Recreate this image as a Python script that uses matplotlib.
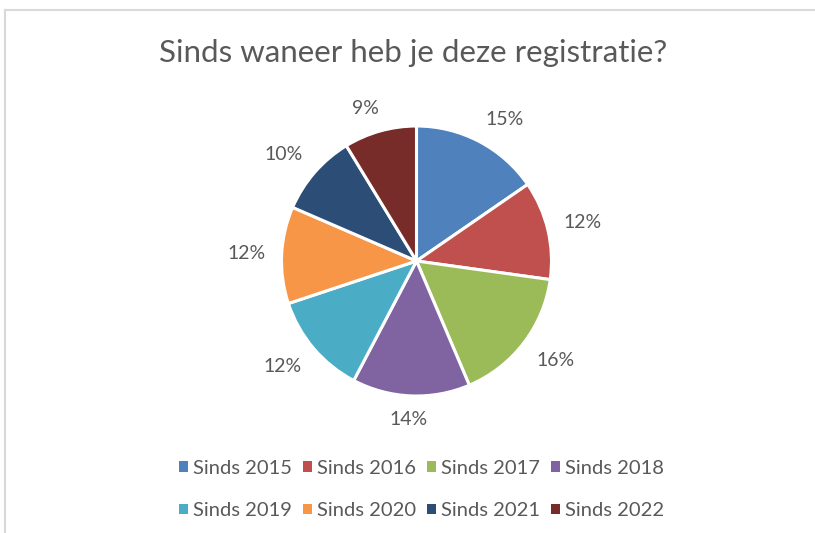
import numpy as np
import matplotlib as mpl
mpl.use('Agg')
import matplotlib.pyplot as plt
from matplotlib.lines import Line2D
from matplotlib.patches import Patch

labels = ['Sinds 2015', 'Sinds 2016', 'Sinds 2017', 'Sinds 2018',
          'Sinds 2019', 'Sinds 2020', 'Sinds 2021', 'Sinds 2022']
# shares in percent
shares = [15.4, 11.8, 16.4, 14.1, 12.2, 11.6, 9.8, 8.7]
colors = ['#4F81BD', '#C0504D', '#9BBB59', '#8064A2',
          '#4BACC6', '#F79646', '#2C4D75', '#772C2A']

plt.rcParams['font.family'] = ['Lato', 'DejaVu Sans']
txt = '#595959'

W, H = 815, 533
fig = plt.figure(figsize=(W / 100, H / 100), dpi=100)

# chart border (top and left only visible)
fig.add_artist(Line2D([5 / W, 1], [1 - 10 / H, 1 - 10 / H], color='#d9d9d9', lw=1.5))
fig.add_artist(Line2D([5 / W, 5 / W], [0, 1 - 10 / H], color='#d9d9d9', lw=1.5))

cx, cy, r = 416.5, 261, 135
ax = fig.add_axes([(cx - r) / W, 1 - (cy + r) / H, 2 * r / W, 2 * r / H])
wedges, _ = ax.pie(shares, colors=colors, startangle=90, counterclock=False,
                   wedgeprops=dict(edgecolor='white', linewidth=2.2))
ax.set_aspect('equal')
ax.set_xlim(-1, 1)
ax.set_ylim(-1, 1)
ax.axis('off')

# outside-end labels, pushed out by the half size of the text box
R = 151 / r
hw, hh = 19 / r, 7.5 / r
for w, s in zip(wedges, shares):
    a = np.deg2rad((w.theta1 + w.theta2) / 2)
    ux, uy = np.cos(a), np.sin(a)
    x = R * ux + hw * np.clip(2 * ux, -1, 1)
    y = R * uy + hh * np.clip(2 * uy, -1, 1)
    ax.text(x, y, '{:.0f}%'.format(s), ha='center', va='center',
            fontsize=14, color=txt)

fig.text(413.5 / W, 1 - 53 / H, 'Sinds waneer heb je deze registratie?',
         ha='center', va='center', fontsize=22.5, color=txt)

# legend filled row by row
order = [0, 4, 1, 5, 2, 6, 3, 7]
handles = [Patch(facecolor=colors[i], edgecolor='none') for i in order]
leg = fig.legend(handles, [labels[i] for i in order], loc='center',
                 bbox_to_anchor=(421.5 / W, 1 - 489.5 / H),
                 ncol=4, frameon=False, fontsize=14.5, labelcolor=txt,
                 handlelength=0.45, handleheight=0.45, handletextpad=0.25,
                 columnspacing=0.55, labelspacing=1.25, borderpad=0)

fig.savefig('out.png', dpi=100)
